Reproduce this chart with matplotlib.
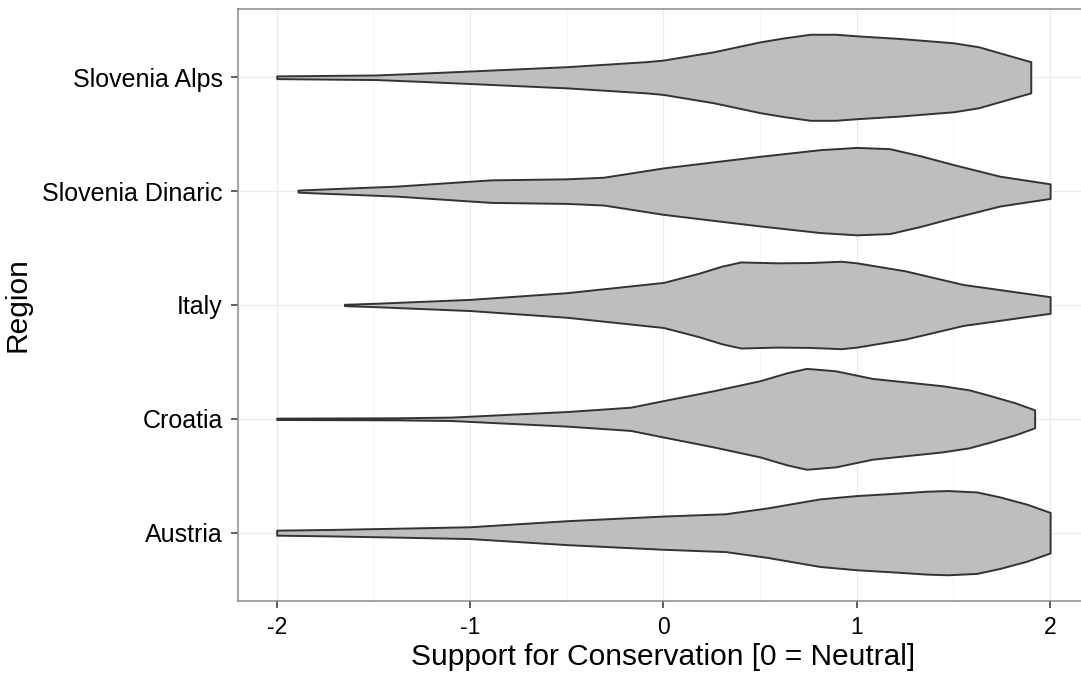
import matplotlib
matplotlib.use("Agg")
import matplotlib.pyplot as plt

plt.rcParams['font.family'] = ['Liberation Sans', 'DejaVu Sans']

regions = ["Austria", "Croatia", "Italy", "Slovenia Dinaric", "Slovenia Alps"]

# support score (x) and violin half-width (in category units) for each region
austria_x = [-2.0, -1.70, -1.32, -1.0, -0.5, 0.0, 0.32, 0.54, 0.81, 1.0, 1.20, 1.36, 1.47, 1.62, 1.74, 1.88, 2.0]
austria_w = [0.022, 0.029, 0.041, 0.052, 0.105, 0.146, 0.166, 0.218, 0.297, 0.326, 0.346, 0.364, 0.370, 0.358, 0.314, 0.250, 0.178]

croatia_x = [-2.0, -1.38, -1.10, -1.0, -0.5, -0.17, 0.0, 0.26, 0.50, 0.64, 0.74, 0.89, 1.08, 1.44, 1.58, 1.69, 1.82, 1.92]
croatia_w = [0.006, 0.009, 0.015, 0.023, 0.064, 0.102, 0.160, 0.247, 0.335, 0.405, 0.443, 0.422, 0.355, 0.291, 0.255, 0.204, 0.140, 0.079]

italy_x = [-1.65, -1.49, -1.0, -0.5, 0.0, 0.18, 0.30, 0.40, 0.59, 0.76, 0.92, 1.0, 1.25, 1.40, 1.55, 2.0]
italy_w = [0.006, 0.015, 0.049, 0.108, 0.198, 0.277, 0.340, 0.378, 0.370, 0.373, 0.384, 0.370, 0.300, 0.240, 0.180, 0.073]

dinaric_x = [-1.89, -1.81, -1.38, -1.0, -0.89, -0.5, -0.31, 0.0, 0.21, 0.50, 0.81, 1.0, 1.17, 1.33, 1.50, 1.74, 2.0]
dinaric_w = [0.009, 0.015, 0.044, 0.087, 0.099, 0.108, 0.122, 0.204, 0.247, 0.306, 0.364, 0.384, 0.373, 0.310, 0.233, 0.131, 0.064]

alps_x = [-2.0, -1.49, -1.27, -1.0, -0.5, -0.09, 0.0, 0.12, 0.26, 0.50, 0.62, 0.76, 0.89, 1.0, 1.22, 1.50, 1.63, 1.79, 1.90]
alps_w = [0.012, 0.020, 0.035, 0.055, 0.093, 0.137, 0.151, 0.185, 0.224, 0.311, 0.345, 0.378, 0.378, 0.364, 0.341, 0.303, 0.268, 0.190, 0.137]

violins = [(austria_x, austria_w), (croatia_x, croatia_w), (italy_x, italy_w),
           (dinaric_x, dinaric_w), (alps_x, alps_w)]

fig = plt.figure(figsize=(10.81, 6.79), dpi=100)
ax = fig.add_axes([0.2202, 0.1149, 0.787, 0.8719])

for i, (xs, ws) in enumerate(violins):
    pos = i + 1
    lower = [pos - w for w in ws]
    upper = [pos + w for w in ws]
    ax.fill_between(xs, lower, upper, facecolor='#bebebe', edgecolor='#333333',
                    linewidth=1.4, zorder=3)

ax.set_xlim(-2.2, 2.2)
ax.set_ylim(0.4, 5.6)
ax.set_xticks([-2, -1, 0, 1, 2])
ax.set_xticklabels(['-2', '-1', '0', '1', '2'])
ax.set_xticks([-1.5, -0.5, 0.5, 1.5], minor=True)
ax.set_yticks(range(1, len(regions) + 1))
ax.set_yticklabels(regions)

ax.grid(which='major', color='#ebebeb', linewidth=0.9, zorder=0)
ax.grid(which='minor', axis='x', color='#f4f4f4', linewidth=0.6, zorder=0)
ax.set_axisbelow(True)

for side in ['left', 'bottom', 'top', 'right']:
    ax.spines[side].set_color('#8a8a8a')
    ax.spines[side].set_linewidth(1.1)

ax.tick_params(axis='both', which='major', length=5, width=1.1, color='#333333')
ax.tick_params(axis='x', which='major', labelsize=16.5, pad=6, labelcolor='black')
ax.tick_params(axis='y', which='major', labelsize=18, pad=6, labelcolor='black')
ax.tick_params(which='minor', length=0)

ax.set_xlabel('Support for Conservation [0 = Neutral]', fontsize=21.5, labelpad=3)
ax.set_ylabel('Region', fontsize=21.5, labelpad=8)

fig.savefig('out.png', dpi=100)
